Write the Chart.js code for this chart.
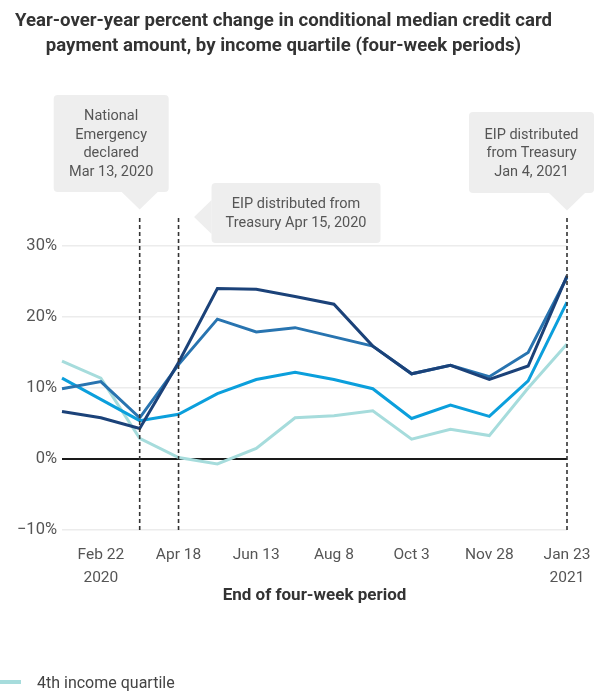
<!DOCTYPE html>
<html>
<head>
<meta charset="utf-8">
<script src="https://cdn.jsdelivr.net/npm/chart.js@4"></script>
<style>
  html, body { margin: 0; padding: 0; background: #fff; overflow: hidden; }
  #wrap { position: relative; width: 599px; height: 692px; }
  #legend { position: absolute; left: 0; top: 672px; font-family: Roboto, sans-serif; font-size: 16px; color: #444; }
  #legend .item { position: relative; height: 21px; line-height: 21px; white-space: nowrap; }
  #legend .swatch { position: absolute; left: 0; top: 8px; width: 21px; height: 4px; }
  #legend .label { padding-left: 37px; }
</style>
</head>
<body>
<div id="wrap">
  <canvas id="chart" width="599" height="692"></canvas>
  <div id="legend"></div>
</div>
<script>
// End dates of the four-week periods
const periodEnds = ['Jan 25', 'Feb 22', 'Mar 21', 'Apr 18', 'May 16', 'Jun 13', 'Jul 11',
                    'Aug 8', 'Sep 5', 'Oct 3', 'Oct 31', 'Nov 28', 'Dec 26', 'Jan 23'];

// Labels shown under the x axis (every other period)
const tickLabels = ['', ['Feb 22', '2020'], '', 'Apr 18', '', 'Jun 13', '', 'Aug 8', '',
                    'Oct 3', '', 'Nov 28', '', ['Jan 23', '2021']];

const yTicks = [30, 20, 10, 0, -10];

// Year-over-year % change in conditional median payment, by income quartile
const quartile4 = [13.8, 11.4, 2.9, 0.2, -0.7, 1.5, 5.8, 6.1, 6.8, 2.8, 4.2, 3.3, 10.0, 16.2];
const quartile3 = [11.4, 8.4, 5.4, 6.3, 9.2, 11.2, 12.2, 11.2, 9.9, 5.7, 7.6, 6.0, 11.0, 22.1];
const quartile2 = [9.9, 10.9, 5.8, 13.3, 19.7, 17.9, 18.5, 17.2, 15.9, 12.0, 13.2, 11.6, 15.0, 25.6];
const quartile1 = [6.7, 5.8, 4.3, 13.6, 24.0, 23.9, 22.9, 21.8, 15.9, 12.0, 13.2, 11.2, 13.1, 25.8];

const seriesNames = ['4th income quartile', '3rd income quartile', '2nd income quartile', '1st income quartile'];

// Event markers: the period they fall in and the callout text
const eventMarkers = [
  { at: 'Mar 21', text: ['National', 'Emergency', 'declared', 'Mar 13, 2020'] },
  { at: 'Apr 18', text: ['EIP distributed from', 'Treasury Apr 15, 2020'] },
  { at: 'Jan 23', text: ['EIP distributed', 'from Treasury', 'Jan 4, 2021'] }
];

// Callout box geometry (offset from the marker line, in px)
const calloutBoxes = [
  { dx: -86, top: 95, w: 115, h: 97, pointer: 'down' },
  { dx: 33, top: 183, w: 169, h: 60, pointer: 'left' },
  { dx: -98, top: 112, w: 125, h: 81, pointer: 'down' }
];

const colors = ['#a6dcdc', '#0b9fdc', '#2874b0', '#1b4279'];
const seriesData = [quartile4, quartile3, quartile2, quartile1];

Chart.defaults.font.family = 'Roboto, sans-serif';
Chart.defaults.color = '#555';

const calloutPlugin = {
  id: 'eventCallouts',
  afterDatasetsDraw(chart) {
    const { ctx, chartArea, scales } = chart;
    const xs = scales.x;
    ctx.save();
    eventMarkers.forEach((m, i) => {
      const px = xs.getPixelForValue(periodEnds.indexOf(m.at));
      const g = calloutBoxes[i];

      // dashed marker line
      ctx.setLineDash([4, 3]);
      ctx.lineWidth = 1.6;
      ctx.strokeStyle = '#333';
      ctx.beginPath();
      ctx.moveTo(px, 218);
      ctx.lineTo(px, chartArea.bottom);
      ctx.stroke();
      ctx.setLineDash([]);

      // box with pointer
      const left = px + g.dx, top = g.top, w = g.w, h = g.h, r = 4;
      ctx.fillStyle = '#eeeeee';
      ctx.beginPath();
      ctx.moveTo(left + r, top);
      ctx.lineTo(left + w - r, top);
      ctx.quadraticCurveTo(left + w, top, left + w, top + r);
      ctx.lineTo(left + w, top + h - r);
      ctx.quadraticCurveTo(left + w, top + h, left + w - r, top + h);
      ctx.lineTo(left + r, top + h);
      ctx.quadraticCurveTo(left, top + h, left, top + h - r);
      ctx.lineTo(left, top + r);
      ctx.quadraticCurveTo(left, top, left + r, top);
      ctx.closePath();
      ctx.fill();

      ctx.beginPath();
      if (g.pointer === 'down') {
        ctx.moveTo(px - 18, top + h);
        ctx.lineTo(px + 18, top + h);
        ctx.lineTo(px, top + h + 17.5);
      } else {
        const cy = top + h / 2 + 4;
        ctx.moveTo(left, cy - 17);
        ctx.lineTo(left, cy + 17);
        ctx.lineTo(left - 17.5, cy);
      }
      ctx.closePath();
      ctx.fill();

      // text
      ctx.fillStyle = '#555';
      ctx.font = '14.5px Roboto, sans-serif';
      ctx.textAlign = 'center';
      ctx.textBaseline = 'middle';
      const lh = 18.5;
      const cx = left + w / 2;
      const startY = top + h / 2 - (m.text.length - 1) * lh / 2 + 1;
      m.text.forEach((t, k) => ctx.fillText(t, cx, startY + k * lh));
    });
    ctx.restore();
  }
};

new Chart(document.getElementById('chart'), {
  type: 'line',
  data: {
    labels: periodEnds,
    datasets: seriesData.map((d, i) => ({
      label: seriesNames[i],
      data: d,
      borderColor: colors[i],
      backgroundColor: colors[i],
      borderWidth: 3,
      pointRadius: 0,
      tension: 0,
      order: 3 - i
    }))
  },
  options: {
    responsive: false,
    devicePixelRatio: 1,
    animation: false,
    layout: { padding: { left: 0, right: 32, top: 0, bottom: 82 } },
    plugins: {
      legend: { display: false },
      tooltip: { enabled: false },
      title: {
        display: true,
        text: ['Year-over-year percent change in conditional median credit card',
               'payment amount, by income quartile (four-week periods)'],
        color: '#333',
        font: { size: 18.6, weight: 'bold', lineHeight: 1.35 },
        padding: { top: 9, bottom: 186.8 }
      }
    },
    scales: {
      x: {
        type: 'category',
        offset: false,
        grid: { display: false },
        border: { display: false },
        ticks: {
          autoSkip: false,
          maxRotation: 0,
          padding: 6,
          color: '#555',
          font: { size: 15.5, lineHeight: 1.48 },
          callback: (v, i) => tickLabels[i]
        },
        title: {
          display: true,
          text: 'End of four-week period',
          color: '#333',
          font: { size: 17, weight: 'bold', lineHeight: 1.2 },
          padding: { top: 0, bottom: 4 }
        },
        afterFit: (s) => { s.height = 80; }
      },
      y: {
        min: -10,
        max: 30,
        border: { display: false },
        afterBuildTicks: (s) => { s.ticks = yTicks.map(v => ({ value: v })); },
        grid: {
          drawTicks: false,
          color: (c) => c.tick && c.tick.value === 0 ? '#1a1a1a' : '#ececec',
          lineWidth: (c) => c.tick && c.tick.value === 0 ? 2 : 1.5
        },
        ticks: {
          padding: 5,
          color: '#555',
          font: { size: 16.5 },
          callback: (v) => (v < 0 ? '\u2212' + Math.abs(v) : v) + '%'
        },
        afterFit: (s) => { s.width = 62; }
      }
    }
  },
  plugins: [calloutPlugin]
});

// Legend listing the quartiles
const legendEl = document.getElementById('legend');
seriesNames.forEach((name, i) => {
  const item = document.createElement('div');
  item.className = 'item';
  const sw = document.createElement('span');
  sw.className = 'swatch';
  sw.style.background = colors[i];
  const lb = document.createElement('span');
  lb.className = 'label';
  lb.textContent = name;
  item.appendChild(sw);
  item.appendChild(lb);
  legendEl.appendChild(item);
});
</script>
</body>
</html>
